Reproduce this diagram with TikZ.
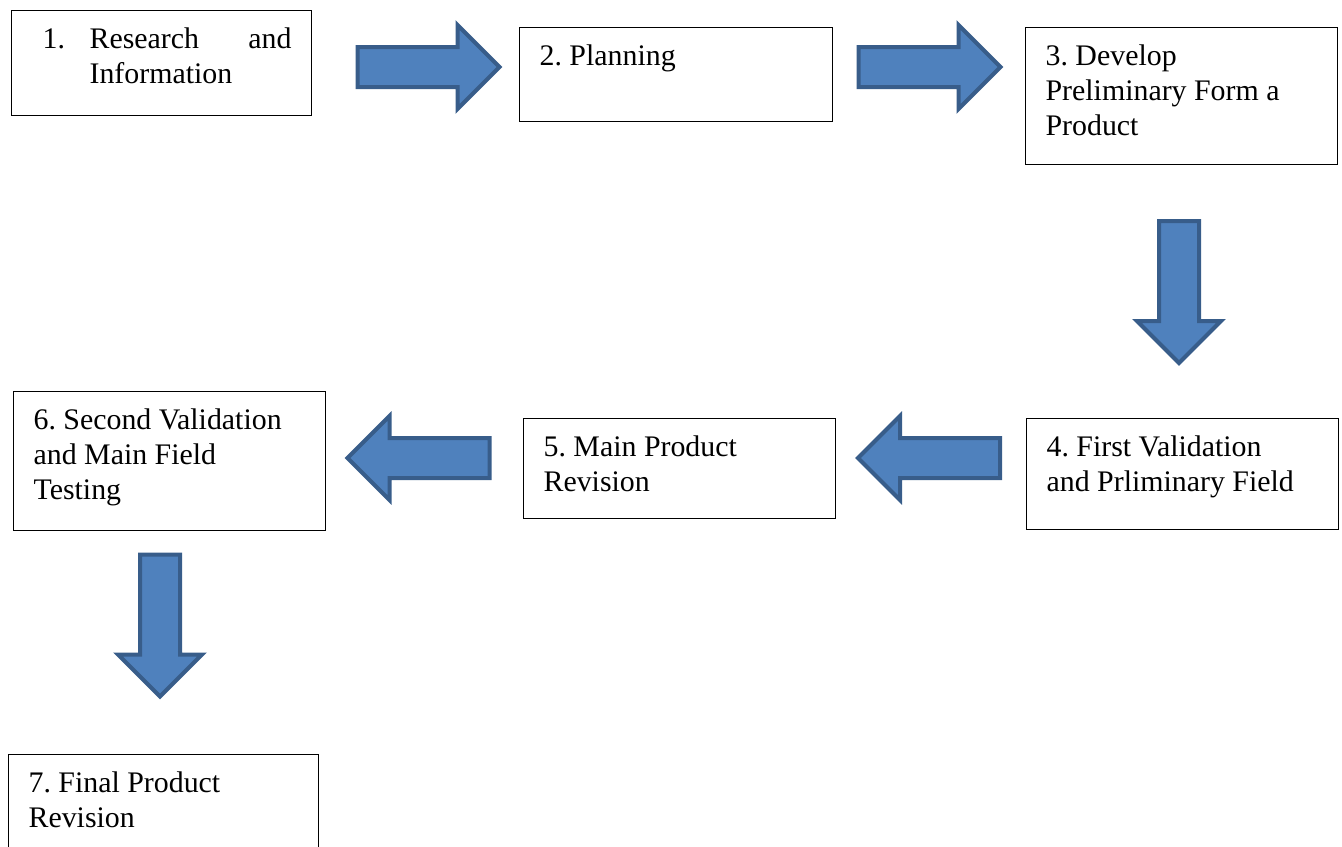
\documentclass[tikz,border=0pt]{standalone}
\usepackage{fontspec}
\setmainfont{Liberation Serif}
\usepackage{xcolor}
\definecolor{arrowfill}{HTML}{4F81BD}
\definecolor{arrowline}{HTML}{385D8A}
\frenchspacing

\begin{document}
\begin{tikzpicture}[
			x=0.02cm, y=-0.02cm,
			every node/.style={font=\fontsize{17pt}{19.9pt}\selectfont},
			box/.style={draw, line width=0.7pt, anchor=north west, align=flush left, text width=5.44cm, inner xsep=0.4cm, inner ysep=0pt, text height=0.76cm},
			blockarrow/.style={fill=arrowfill, draw=arrowline, line width=0.08cm, line join=miter},
			fatarrow/.pic={\draw[blockarrow] (-71,-20) -- (29,-20) -- (29,-42) -- (71,0) -- (29,42) -- (29,20) -- (-71,20) -- cycle;},
			]
			
			\clip (0,0) rectangle (1342,846);
			
			\node[box, text width=5.2cm, text depth=1.34cm] (research) at (11,10) {\hspace*{0.22cm}\makebox[0.94cm][l]{1.}Research\hfill and\\\hspace*{1.16cm}Information};
			\node[box, text width=5.46cm, text depth=1.12cm] (planning) at (519,27) {2. Planning};
			\node[box, text depth=1.98cm] (develop) at (1025,27) {3. Develop\\Preliminary Form a\\Product};
			
			\node[box, text depth=1.46cm] (firstval) at (1026,418) {4. First Validation\\and Prliminary Field};
			\node[box, text depth=1.24cm] (revision) at (523,418) {5. Main Product\\Revision};
			\node[box, text depth=2.02cm] (secondval) at (13,391) {6. Second Validation\\and Main Field\\Testing};
			
			\node[box, text width=5.4cm, text depth=2.4cm] (final) at (8,754) {7. Final Product\\Revision};
			
			\pic at (428.5,67) {fatarrow};
			\pic at (929.5,67) {fatarrow};
			\pic[rotate=-90] at (1179,292) {fatarrow};
			\pic[rotate=180] at (929,458) {fatarrow};
			\pic[rotate=180] at (418.5,458) {fatarrow};
			\pic[rotate=-90] at (160,625.5) {fatarrow};
			
		\end{tikzpicture}
\end{document}
